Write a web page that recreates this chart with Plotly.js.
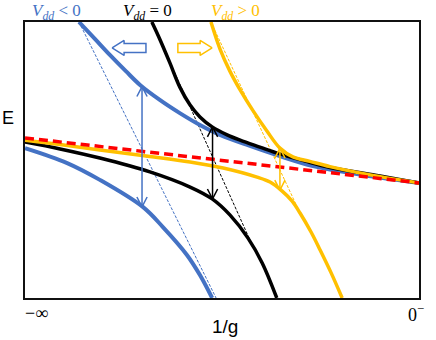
<!DOCTYPE html>
<html>
<head>
<meta charset="utf-8">
<script src="https://cdn.plot.ly/plotly-3.0.1.min.js"></script>
<style>
  body { margin: 0; background: #fff; }
  #plot { width: 436px; height: 340px; }
</style>
</head>
<body>
<div id="plot"></div>
<script>
// axis units: x 0 (−∞) .. 100 (0⁻), y 0 .. 100 (energy, arbitrary)
var tickLabels = ["\u2212\u221e", "0<sup>\u2212</sup>"];

// Vdd = 0 (black)
var blackUpX = [32.2, 34.3, 36.8, 39.3, 41.9, 44.4, 47.5, 51.3, 54.6, 59.6, 64.7, 71.1, 77.4, 90.1, 100];
var blackUpY = [100, 93.5, 85.1, 76.4, 69.9, 65.6, 62.0, 59.1, 57.2, 54.7, 52.2, 49.6, 47.3, 44.2, 41.7];
var blackLoX = [0, 8.9, 19.0, 31.7, 41.9, 47.5, 52.0, 56.6, 60.2, 63.9];
var blackLoY = [56.5, 54.0, 50.7, 45.7, 40.2, 35.9, 30.1, 21.7, 12.7, 0];

// Vdd < 0 (blue)
var blueUpX = [13.7, 17.8, 21.6, 25.6, 29.2, 34.3, 39.3, 44.4, 49.5, 57.1, 64.7, 73.1, 82.5, 100];
var blueUpY = [100, 93.8, 88.0, 82.2, 77.2, 71.7, 67.0, 62.7, 59.1, 55.1, 51.4, 47.8, 45.3, 41.7];
var blueLoX = [0, 10.7, 19.0, 29.9, 35.0, 41.1, 44.4, 47.5];
var blueLoY = [54.3, 48.9, 42.8, 33.0, 25.7, 15.6, 8.3, 0];

// Vdd > 0 (yellow)
var yellowUpX = [47.2, 49.5, 52.0, 54.6, 57.9, 61.4, 64.7, 68.0, 72.3, 77.4, 87.6, 100];
var yellowUpY = [100, 90.2, 82.2, 75.4, 67.8, 60.5, 54.3, 51.1, 49.5, 47.6, 44.6, 41.7];
var yellowLoX = [0, 8.9, 19.0, 31.7, 41.9, 50.3, 58.9, 62.2, 65.2, 67.8, 69.8, 72.6, 74.9, 77.7, 80.5];
var yellowLoY = [57.2, 55.6, 53.6, 51.3, 49.3, 47.1, 43.8, 42.0, 38.8, 35.1, 30.8, 23.9, 17.4, 9.1, 0];

// red dashed reference line
var redX = [0, 49.5, 100];
var redY = [58.0, 49.9, 41.7];

// thin asymptotes [x0, x1], [y0, y1]
var blueAsymX = [13.7, 48.5];
var blueAsymY = [100, 0];
var blackAsymX = [32.2, 57.1];
var blackAsymY = [100, 21.0];
var yellowAsymX = [47.2, 69.8];
var yellowAsymY = [100, 30.8];

// vertical gap arrows: x, top, bottom
var gapX = [29.7, 47.6, 64.7];
var gapTop = [76.6, 62.0, 54.3];
var gapBot = [33.0, 35.9, 39.1];

// shift arrows: tip, tail, center y
var shiftTip = [22.1, 47.5];
var shiftTail = [30.7, 38.8];
var shiftY = 90.6;

var BLUE = "#4472C4", YELLOW = "#FFC000", BLACK = "#000000", RED = "#FF0000";
var gapColors = [BLUE, BLACK, YELLOW];

function curve(x, y, color, width) {
    return {x: x, y: y, mode: "lines", hoverinfo: "skip",
        line: {color: color, width: width, shape: "spline", smoothing: 1}};
}

function asym(x, y, color) {
    return {x: x, y: y, mode: "lines", hoverinfo: "skip",
        line: {color: color, width: 1, dash: "3px,1.5px"}};
}

// double headed vertical arrow with open heads
function gapArrow(x, yTop, yBot, color) {
    var hw = 1.3, hl = 3.6;
    return {
        x: [x, x, null, x - hw, x, x + hw, null, x - hw, x, x + hw],
        y: [yTop, yBot, null, yTop - hl, yTop, yTop - hl, null, yBot + hl, yBot, yBot + hl],
        mode: "lines", hoverinfo: "skip",
        line: {color: color, width: 1.5}
    };
}

// hollow block arrow
function blockArrow(tip, tail, yc, color) {
    var dir = tail > tip ? 1 : -1;
    var hl = 3.05, hh = 2.72, sh = 1.63;
    var b = tip + dir * hl;
    return {
        x: [tip, b, b, tail, tail, b, b, tip],
        y: [yc, yc + hh, yc + sh, yc + sh, yc - sh, yc - sh, yc - hh, yc],
        mode: "lines", hoverinfo: "skip",
        line: {color: color, width: 1.5}
    };
}

var traces = [
    asym(blueAsymX, blueAsymY, BLUE),
    asym(blackAsymX, blackAsymY, BLACK),
    asym(yellowAsymX, yellowAsymY, YELLOW),
    curve(blueUpX, blueUpY, BLUE, 4),
    curve(blueLoX, blueLoY, BLUE, 4),
    curve(blackUpX, blackUpY, BLACK, 3.5),
    curve(blackLoX, blackLoY, BLACK, 3.5),
    curve(yellowUpX, yellowUpY, YELLOW, 3.5),
    curve(yellowLoX, yellowLoY, YELLOW, 3.5),
    {x: redX, y: redY, mode: "lines", hoverinfo: "skip",
        line: {color: RED, width: 3.5, dash: "9px,5px"}}
];
for (var i = 0; i < gapX.length; i++) {
    traces.push(gapArrow(gapX[i], gapTop[i], gapBot[i], gapColors[i]));
}
traces.push(blockArrow(shiftTip[0], shiftTail[0], shiftY, BLUE));
traces.push(blockArrow(shiftTip[1], shiftTail[1], shiftY, YELLOW));

var SERIF = "Liberation Serif";
function label(txt, x, y, family, size, color) {
    return {text: txt, x: x, y: y, xref: "paper", yref: "paper", showarrow: false,
        xanchor: "center", yanchor: "middle",
        font: {family: family, size: size, color: color}};
}

var layout = {
    width: 436, height: 340,
    margin: {l: 25, r: 17, t: 22, b: 42},
    paper_bgcolor: "#fff", plot_bgcolor: "#fff",
    showlegend: false,
    xaxis: {range: [0, 100], showgrid: false, zeroline: false, showticklabels: false,
        ticks: "", showline: true, mirror: true, linecolor: "#111", linewidth: 2},
    yaxis: {range: [0, 100], showgrid: false, zeroline: false, showticklabels: false,
        ticks: "", showline: true, mirror: true, linecolor: "#111", linewidth: 2},
    annotations: [
        label("<i>V</i><sub><i>dd</i></sub> &lt; 0", 0.081, 1.036, SERIF, 17, BLUE),
        label("<i>V</i><sub><i>dd</i></sub> = 0", 0.31, 1.036, SERIF, 17, BLACK),
        label("<i>V</i><sub><i>dd</i></sub> &gt; 0", 0.533, 1.036, SERIF, 17, YELLOW),
        label("E", -0.043, 0.652, "Liberation Sans", 18, "#000"),
        label("1/g", 0.508, -0.105, "Liberation Sans", 19, "#000"),
        label(tickLabels[0], 0.030, -0.054, SERIF, 18, "#000"),
        label(tickLabels[1], 0.992, -0.056, SERIF, 18, "#000")
    ]
};

Plotly.newPlot("plot", traces, layout, {staticPlot: true, displayModeBar: false});
</script>
</body>
</html>
